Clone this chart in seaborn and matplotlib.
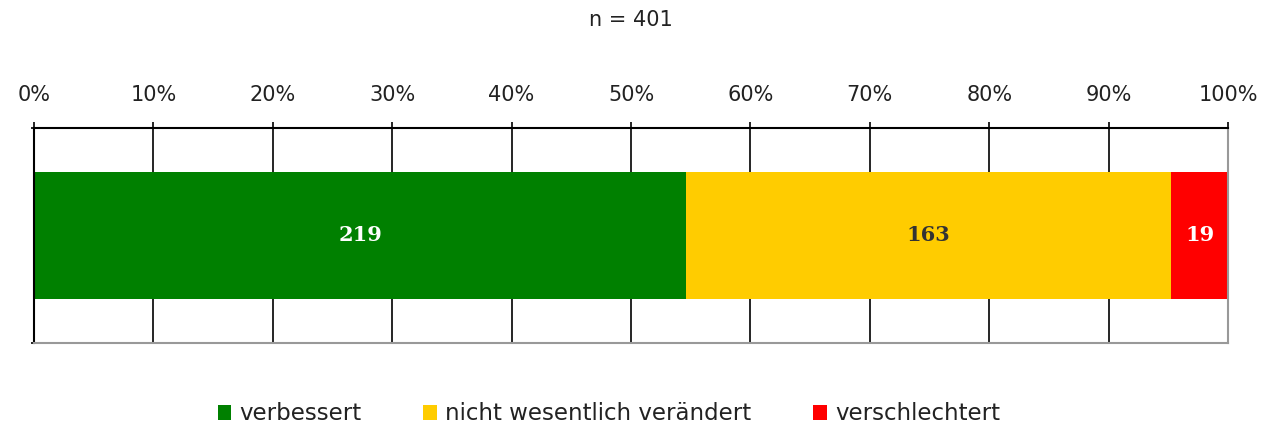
import matplotlib
matplotlib.use('Agg')
import matplotlib.pyplot as plt
import matplotlib.ticker as mticker
from matplotlib.patches import Patch
import pandas as pd
import seaborn as sns

sns.set_theme(style="white")
plt.rcParams['font.family'] = ['DejaVu Sans']

# Data
categories = ['verbessert', 'nicht wesentlich verändert', 'verschlechtert']
counts = [219, 163, 19]
colors = ['#008000', '#FFCC00', '#FF0000']
label_colors = ['white', '#333333', 'white']
title = 'n = 401'

total = sum(counts)
shares = [c / total * 100 for c in counts]
cum = []
running = 0
for s in shares:
    running += s
    cum.append(running)

fig = plt.figure(figsize=(12.71, 4.28), dpi=100)
ax = fig.add_axes([34 / 1271, 1 - 343 / 428, (1228 - 34) / 1271, 215 / 428])

# vertical grid lines behind bars
for x in range(0, 101, 10):
    ax.axvline(x, color='black', lw=1.2, zorder=0)

# stacked bar: draw cumulative totals from largest to smallest
for i in reversed(range(len(categories))):
    df = pd.DataFrame({'row': [''], 'value': [cum[i]]})
    sns.barplot(data=df, x='value', y='row', orient='h', color=colors[i],
                width=0.59, saturation=1, linewidth=0, ax=ax, zorder=2)

# segment labels
start = 0
for s, c, lc in zip(shares, counts, label_colors):
    ax.text(start + s / 2, 0.0, str(c), ha='center', va='center',
            color=lc, fontsize=15, fontweight='bold', family='DejaVu Serif', zorder=3)
    start += s

ax.set_xlim(0, 100)
ax.set_ylim(0.5, -0.5)
ax.set_xlabel('')
ax.set_ylabel('')
ax.set_yticks([-0.5, 0.5])
ax.set_yticklabels(['', ''])
ax.tick_params(axis='y', left=True, direction='out', length=2.5, width=1.2, color='black')
ax.xaxis.set_major_locator(mticker.MultipleLocator(10))
ax.xaxis.set_major_formatter(mticker.FuncFormatter(lambda v, p: f'{int(v)}%'))
ax.xaxis.tick_top()
ax.tick_params(axis='x', top=True, bottom=False, direction='out', length=4.5,
               width=1.2, color='black', labelsize=15, pad=12, labelcolor='#222222')

for side in ['top', 'left']:
    ax.spines[side].set_color('black')
    ax.spines[side].set_linewidth(1.5)
for side in ['bottom', 'right']:
    ax.spines[side].set_color('#999999')
    ax.spines[side].set_linewidth(1.5)

fig.text(0.4965, 1 - 20 / 428, title, ha='center', va='center', fontsize=15, color='#222222')

handles = [Patch(facecolor=c, edgecolor='none') for c in colors]
fig.legend(handles, categories, loc='center', bbox_to_anchor=(0.479, 1 - 414 / 428),
           ncol=3, frameon=False, fontsize=16.5, handlelength=0.6, handleheight=0.6,
           handletextpad=0.35, columnspacing=2.7, labelcolor='#222222')

fig.savefig('out.png', dpi=100)
plt.close(fig)
